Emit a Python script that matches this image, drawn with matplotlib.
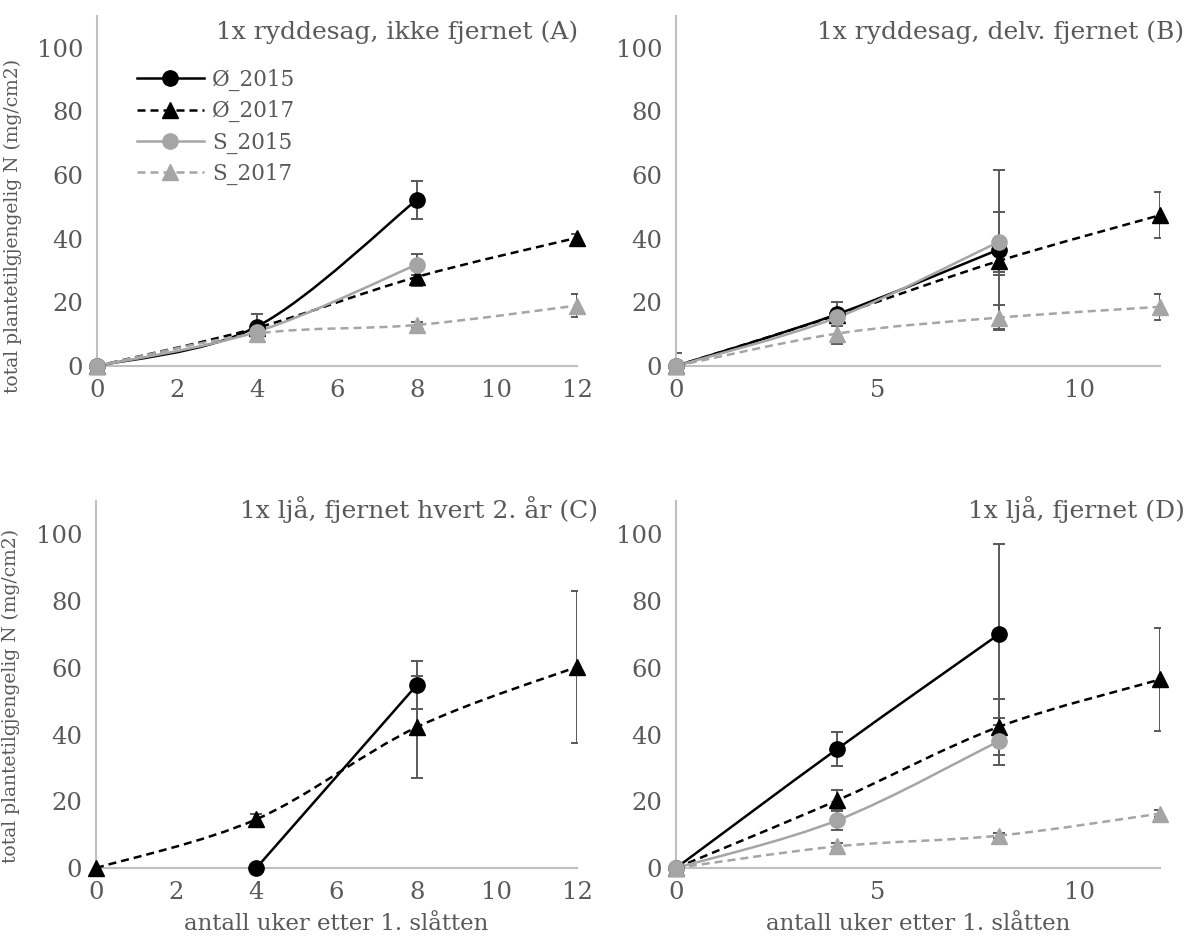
import numpy as np
import matplotlib
matplotlib.use('Agg')
import matplotlib.pyplot as plt
from matplotlib.path import Path
from matplotlib.patches import PathPatch

nan = np.nan

# weeks after first mowing
weeks = [0, 4, 8, 12]

# panel A: 1x ryddesag, ikke fjernet
o15_A = [0, 12.4, 52.3, nan]
o15_A_err = [0, 4.0, 6.0, nan]
o17_A = [0, 12.0, 28.0, 40.3]
o17_A_err = [0, 1.0, 3.0, 1.2]
s15_A = [0, 10.8, 31.9, nan]
s15_A_err = [0, 1.5, 3.2, nan]
s17_A = [0, 10.2, 12.9, 19.0]
s17_A_err = [0, 2.0, 1.0, 3.6]

# panel B: 1x ryddesag, delv. fjernet
o15_B = [0, 16.3, 36.6, nan]
o15_B_err = [4.0, 3.7, 25.0, nan]
o17_B = [0, 16.0, 33.0, 47.4]
o17_B_err = [0, 1.0, 4.5, 7.2]
s15_B = [0, 15.3, 39.0, nan]
s15_B_err = [0, 1.5, 9.5, nan]
s17_B = [0, 10.2, 15.2, 18.6]
s17_B_err = [0, 3.3, 4.0, 4.0]

# panel C: 1x ljå, fjernet hvert 2. år
o15_C = [nan, 0, 54.8, nan]
o15_C_err = [nan, 0, 7.2, nan]
o17_C = [0, 14.6, 42.2, 60.3]
o17_C_err = [0, 1.5, 15.3, 22.8]

# panel D: 1x ljå, fjernet
o15_D = [0, 35.7, 70.0, nan]
o15_D_err = [0, 5.2, 27.0, nan]
o17_D = [0, 20.3, 42.3, 56.5]
o17_D_err = [0, 3.0, 8.3, 15.5]
s15_D = [0, 14.3, 38.0, nan]
s15_D_err = [0, 2.8, 7.0, nan]
s17_D = [0, 6.5, 9.7, 16.3]
s17_D_err = [0, 1.0, 0.8, 1.0]

titles = ['1x ryddesag, ikke fjernet (A)', '1x ryddesag, delv. fjernet (B)',
          '1x ljå, fjernet hvert 2. år (C)', '1x ljå, fjernet (D)']
series_names = ['Ø_2015', 'Ø_2017', 'S_2015', 'S_2017']
ylabel = 'total plantetilgjengelig N (mg/cm2)'
xlabel = 'antall uker etter 1. slåtten'

plt.rcParams['font.family'] = ['DejaVu Serif']
TXT = '#595959'
AXC = '#BFBFBF'
GREY = '#A5A5A5'
DASH = (0, (3.2, 2.0))

styles = {
    'Ø_2015': dict(color='black', ls='-', marker='o'),
    'Ø_2017': dict(color='black', ls=DASH, marker='^'),
    'S_2015': dict(color=GREY, ls='-', marker='o'),
    'S_2017': dict(color=GREY, ls=DASH, marker='^'),
}


# Excel-like smoothed line (Catmull-Rom as cubic Bezier)
def smooth_path(x, y):
    x = np.asarray(x, float)
    y = np.asarray(y, float)
    ok = np.isfinite(y)
    pts = np.column_stack([x[ok], y[ok]])
    n = len(pts)
    verts = [pts[0]]
    codes = [Path.MOVETO]
    for i in range(n - 1):
        p0 = pts[max(i - 1, 0)]
        p1 = pts[i]
        p2 = pts[i + 1]
        p3 = pts[min(i + 2, n - 1)]
        verts += [p1 + (p2 - p0) / 6, p2 - (p3 - p1) / 6, p2]
        codes += [Path.CURVE4] * 3
    return Path(verts, codes)


def draw_series(ax, name, y, err):
    st = styles[name]
    ax.errorbar(weeks, y, yerr=err, fmt='none', ecolor=TXT, elinewidth=1.4,
                capsize=4, capthick=1.4, zorder=2)
    ax.add_patch(PathPatch(smooth_path(weeks, y), fill=False, edgecolor=st['color'],
                           linestyle=st['ls'], linewidth=1.8, zorder=3, clip_on=False))
    ax.plot(weeks, y, linestyle='none', marker=st['marker'], markersize=11,
            color=st['color'], zorder=4, clip_on=False)


def style_axes(ax, xticks):
    ax.set_xlim(0, 12)
    ax.set_ylim(0, 110)
    ax.set_xticks(xticks)
    ax.set_yticks(range(0, 101, 20))
    for s in ['top', 'right']:
        ax.spines[s].set_visible(False)
    for s in ['left', 'bottom']:
        ax.spines[s].set_color(AXC)
        ax.spines[s].set_linewidth(1.5)
    ax.tick_params(length=0, labelsize=17.5, labelcolor=TXT)
    ax.tick_params(axis='y', pad=10)
    ax.tick_params(axis='x', pad=9)


W, H = 1189, 947
fig = plt.figure(figsize=(W / 100, H / 100), dpi=100)


def rect(x0, x1, ytop, ybot):
    return [x0 / W, 1 - ybot / H, (x1 - x0) / W, (ybot - ytop) / H]


axA = fig.add_axes(rect(97, 577, 16, 366))
axB = fig.add_axes(rect(676, 1160, 16, 366))
axC = fig.add_axes(rect(96, 577, 501, 868))
axD = fig.add_axes(rect(676, 1160, 501, 868))

for nm, y, e in zip(series_names, [o15_A, o17_A, s15_A, s17_A],
                    [o15_A_err, o17_A_err, s15_A_err, s17_A_err]):
    draw_series(axA, nm, y, e)
for nm, y, e in zip(series_names, [o15_B, o17_B, s15_B, s17_B],
                    [o15_B_err, o17_B_err, s15_B_err, s17_B_err]):
    draw_series(axB, nm, y, e)
for nm, y, e in zip(series_names[:2], [o15_C, o17_C], [o15_C_err, o17_C_err]):
    draw_series(axC, nm, y, e)
for nm, y, e in zip(series_names, [o15_D, o17_D, s15_D, s17_D],
                    [o15_D_err, o17_D_err, s15_D_err, s17_D_err]):
    draw_series(axD, nm, y, e)

style_axes(axA, range(0, 13, 2))
style_axes(axB, [0, 5, 10])
style_axes(axC, range(0, 13, 2))
style_axes(axD, [0, 5, 10])

for ax in [axA, axC]:
    ax.set_ylabel(ylabel, fontsize=13.5, color=TXT)
axA.yaxis.set_label_coords(-0.157, 0.40)
axC.yaxis.set_label_coords(-0.157, 0.47)
for ax in [axC, axD]:
    ax.set_xlabel(xlabel, fontsize=16.5, color=TXT, labelpad=7)

# panel titles, right aligned
for t, (xr, yc) in zip(titles, [(578, 32), (1184, 32), (598, 510), (1185, 510)]):
    fig.text(xr / W, 1 - yc / H, t, ha='right', va='center', fontsize=18, color=TXT)

# legend in panel A
handles = []
for nm in series_names:
    st = styles[nm]
    h, = axA.plot([], [], color=st['color'], linestyle=st['ls'], linewidth=1.8,
                  marker=st['marker'], markersize=11)
    handles.append(h)
leg = fig.legend(handles, series_names, loc='upper left',
                 bbox_to_anchor=(137 / W, 1 - 69 / H), frameon=False, fontsize=15.5,
                 handlelength=3.1, handletextpad=0.4, labelspacing=0.42,
                 borderpad=0, borderaxespad=0)
for t in leg.get_texts():
    t.set_color(TXT)

fig.savefig('out.png', dpi=100)
